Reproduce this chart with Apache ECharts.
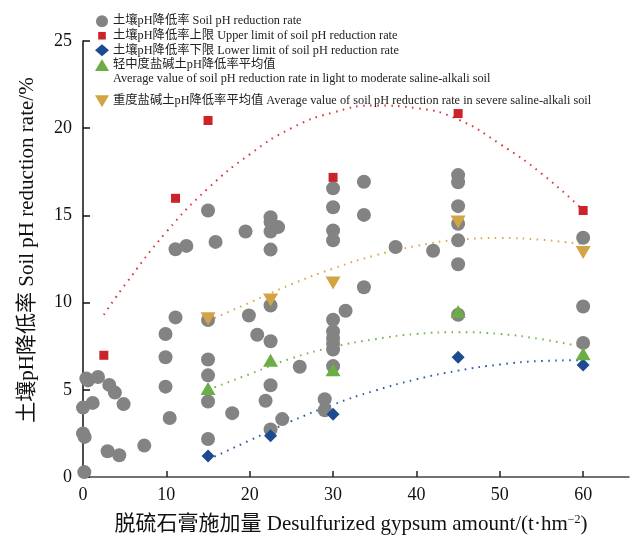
<!DOCTYPE html>
<html>
<head>
<meta charset="utf-8">
<script src="https://cdn.jsdelivr.net/npm/echarts@6/dist/echarts.min.js"></script>
<style>
  html, body { margin: 0; padding: 0; background: #fff; }
  #chart { width: 631px; height: 540px; }
</style>
</head>
<body>
<div id="chart"></div>
<script>
// scatter values, [amount, rate]
const rateAll = [
  [0.16, 0.28], [0, 3.98], [0, 2.5], [0.2, 2.3], [0.4, 5.65], [0.6, 5.54], [1.8, 5.73],
  [3.15, 5.28], [3.83, 4.84], [1.16, 4.25], [4.87, 4.18], [2.95, 1.48], [4.35, 1.25],
  [7.35, 1.8], [9.9, 8.2], [9.9, 6.87], [9.9, 5.18], [10.4, 3.38], [11.1, 9.15],
  [11.1, 13.06], [12.4, 13.25],
  [15, 15.28], [15, 9.0], [15, 6.74], [15, 5.83], [15, 4.33], [15, 2.18],
  [15.9, 13.48], [17.9, 3.66], [19.5, 14.08], [19.9, 9.26], [20.9, 8.16], [21.9, 4.37],
  [22.5, 14.9], [22.5, 14.62], [22.5, 14.08], [22.5, 13.04], [22.5, 9.83], [22.5, 7.78],
  [22.5, 5.26], [22.5, 2.72],
  [23.4, 14.33], [23.9, 3.32], [26.0, 6.32], [29.0, 4.46], [29.0, 3.83],
  [30, 16.55], [30, 15.47], [30, 14.14], [30, 13.57], [30, 9.02], [30, 8.35], [30, 7.97],
  [30, 7.65], [30, 7.31], [30, 6.36],
  [31.5, 9.53], [33.7, 16.93], [33.7, 15.03], [33.7, 10.88], [37.5, 13.19], [42.0, 12.97],
  [45, 17.31], [45, 16.9], [45, 15.53], [45, 14.52], [45, 13.57], [45, 12.2], [45, 9.3],
  [60, 13.72], [60, 9.78], [60, 7.69]
]
const rateUpper = [[2.5, 6.98], [11.1, 15.98], [15, 20.44], [30, 17.18], [45, 20.84], [60, 15.28]]
const rateLower = [[15, 1.2], [22.5, 2.37], [30, 3.6], [45, 6.87], [60, 6.42]]
const avgLight = [[15, 5.07], [22.5, 6.7], [30, 6.15], [45, 9.49], [60, 7.06]]
const avgSevere = [[15, 9.07], [22.5, 10.15], [30, 11.13], [45, 14.62], [60, 12.87]]

// dotted trend curves
const upperCurve = [[2.5, 9.3], [5, 11.0], [10, 14.05], [15, 16.55], [20, 18.5], [25, 20.0], [30, 20.9],
  [35, 21.3], [40, 21.15], [45, 20.5], [50, 19.1], [55, 17.4], [60, 15.3]]
const severeCurve = [[15, 8.95], [20, 10.0], [25, 11.05], [30, 11.95], [35, 12.7], [40, 13.25],
  [45, 13.6], [50, 13.7], [55, 13.6], [60, 13.35]]
const lightCurve = [[15, 5.0], [20, 5.9], [25, 6.8], [30, 7.45], [35, 7.9], [40, 8.2],
  [45, 8.3], [50, 8.2], [55, 7.9], [60, 7.45]]
const lowerCurve = [[15, 1.0], [20, 2.1], [25, 3.2], [30, 4.15], [35, 4.95], [40, 5.6],
  [45, 6.1], [50, 6.45], [55, 6.65], [60, 6.7]]

const xTicks = [0, 10, 20, 30, 40, 50, 60]
const yTicks = [0, 5, 10, 15, 20, 25]

const names = [
  '土壤pH降低率 Soil pH reduction rate',
  '土壤pH降低率上限 Upper limit of soil pH reduction rate',
  '土壤pH降低率下限 Lower limit of soil pH reduction rate',
  '轻中度盐碱土pH降低率平均值',
  '重度盐碱土pH降低率平均值 Average value of soil pH reduction rate in severe saline-alkali soil'
]

const serif = '"Liberation Serif", "Times New Roman", "Noto Sans CJK SC", serif'
const cRed = '#cc2229'
const cBlue = '#1d4b91'
const cGreen = '#6cad45'
const cGold = '#d3a444'
const cGray = '#838383'

const legendText = { fontFamily: serif, fontSize: 12.3, color: '#222', padding: [0, 0, 0, -1] }

function curve(data, color) {
  return {
    type: 'line',
    data: data,
    smooth: true,
    symbol: 'none',
    silent: true,
    z: 1,
    lineStyle: { color: color, width: 2, type: [1.6, 5.4] }
  }
}

const chart = echarts.init(document.getElementById('chart'))

chart.setOption({
  animation: false,
  textStyle: { fontFamily: serif },
  grid: { left: 83, right: 2, top: 41, bottom: 60 },
  legend: [{
    left: 90,
    top: 10,
    orient: 'vertical',
    itemGap: 2.3,
    itemWidth: 14,
    itemHeight: 12,
    selectedMode: false,
    data: [
      { name: names[0] },
      { name: names[1], icon: 'path://M0,0M12,12M2.2,2.2L9.8,2.2L9.8,9.8L2.2,9.8Z' },
      { name: names[2] },
      { name: names[3] }
    ],
    textStyle: legendText
  }, {
    left: 90,
    top: 90,
    orient: 'vertical',
    itemWidth: 14,
    itemHeight: 12,
    selectedMode: false,
    data: [{ name: names[4], icon: 'path://M0,0L14,0L7,12Z' }],
    textStyle: legendText
  }],
  graphic: [{
    type: 'text',
    left: 113,
    top: 73,
    style: {
      text: 'Average value of soil pH reduction rate in light to moderate saline-alkali soil',
      font: '12.3px ' + serif,
      fill: '#222'
    }
  }],
  xAxis: {
    type: 'value',
    min: 0,
    max: 65.5,
    name: '脱硫石膏施加量 Desulfurized gypsum amount/(t·hm{sup|−2})',
    nameLocation: 'middle',
    nameGap: 37,
    nameTextStyle: {
      fontFamily: serif,
      fontSize: 21,
      color: '#111',
      padding: [0, 10, 0, 0],
      rich: {
        sup: { fontSize: 12, fontFamily: serif, color: '#111', verticalAlign: 'top', padding: [0, 0, 9, 0] }
      }
    },
    axisLine: { lineStyle: { color: '#444', width: 1.5 } },
    axisTick: { inside: true, length: 6, customValues: xTicks, lineStyle: { color: '#222', width: 1.5 } },
    axisLabel: { customValues: xTicks, fontFamily: serif, fontSize: 18, color: '#111', margin: 9 },
    splitLine: { show: false }
  },
  yAxis: {
    type: 'value',
    min: 0,
    max: 25,
    interval: 5,
    name: '土壤pH降低率 Soil pH reduction rate/%',
    nameLocation: 'middle',
    nameGap: 45,
    nameTextStyle: { fontFamily: serif, fontSize: 21, color: '#111', padding: [0, 0, 0, 18] },
    axisLine: { show: true, lineStyle: { color: '#111', width: 1.5 } },
    axisTick: { show: true, inside: true, length: 7, customValues: yTicks, lineStyle: { color: '#111', width: 1.5 } },
    axisLabel: { customValues: yTicks, fontFamily: serif, fontSize: 18, color: '#111', margin: 11 },
    splitLine: { show: false }
  },
  series: [
    curve(upperCurve, '#d8383c'),
    curve(severeCurve, '#d9ab4a'),
    curve(lightCurve, '#7ab552'),
    curve(lowerCurve, '#2f5ea6'),
    {
      name: names[0], type: 'scatter', data: rateAll, symbol: 'circle', symbolSize: 14, z: 2,
      itemStyle: { color: cGray, opacity: 1 }
    },
    {
      name: names[1], type: 'scatter', data: rateUpper, symbol: 'rect', symbolSize: 9, z: 3,
      itemStyle: { color: cRed, opacity: 1 }
    },
    {
      name: names[2], type: 'scatter', data: rateLower, symbol: 'diamond', symbolSize: 13, z: 3,
      itemStyle: { color: cBlue, opacity: 1 }
    },
    {
      name: names[3], type: 'scatter', data: avgLight, symbol: 'triangle', symbolSize: [15, 13], z: 3,
      itemStyle: { color: cGreen, opacity: 1 }
    },
    {
      name: names[4], type: 'scatter', data: avgSevere, symbol: 'triangle', symbolRotate: 180,
      symbolSize: [15, 13], z: 3,
      itemStyle: { color: cGold, opacity: 1 }
    }
  ]
})
</script>
</body>
</html>
